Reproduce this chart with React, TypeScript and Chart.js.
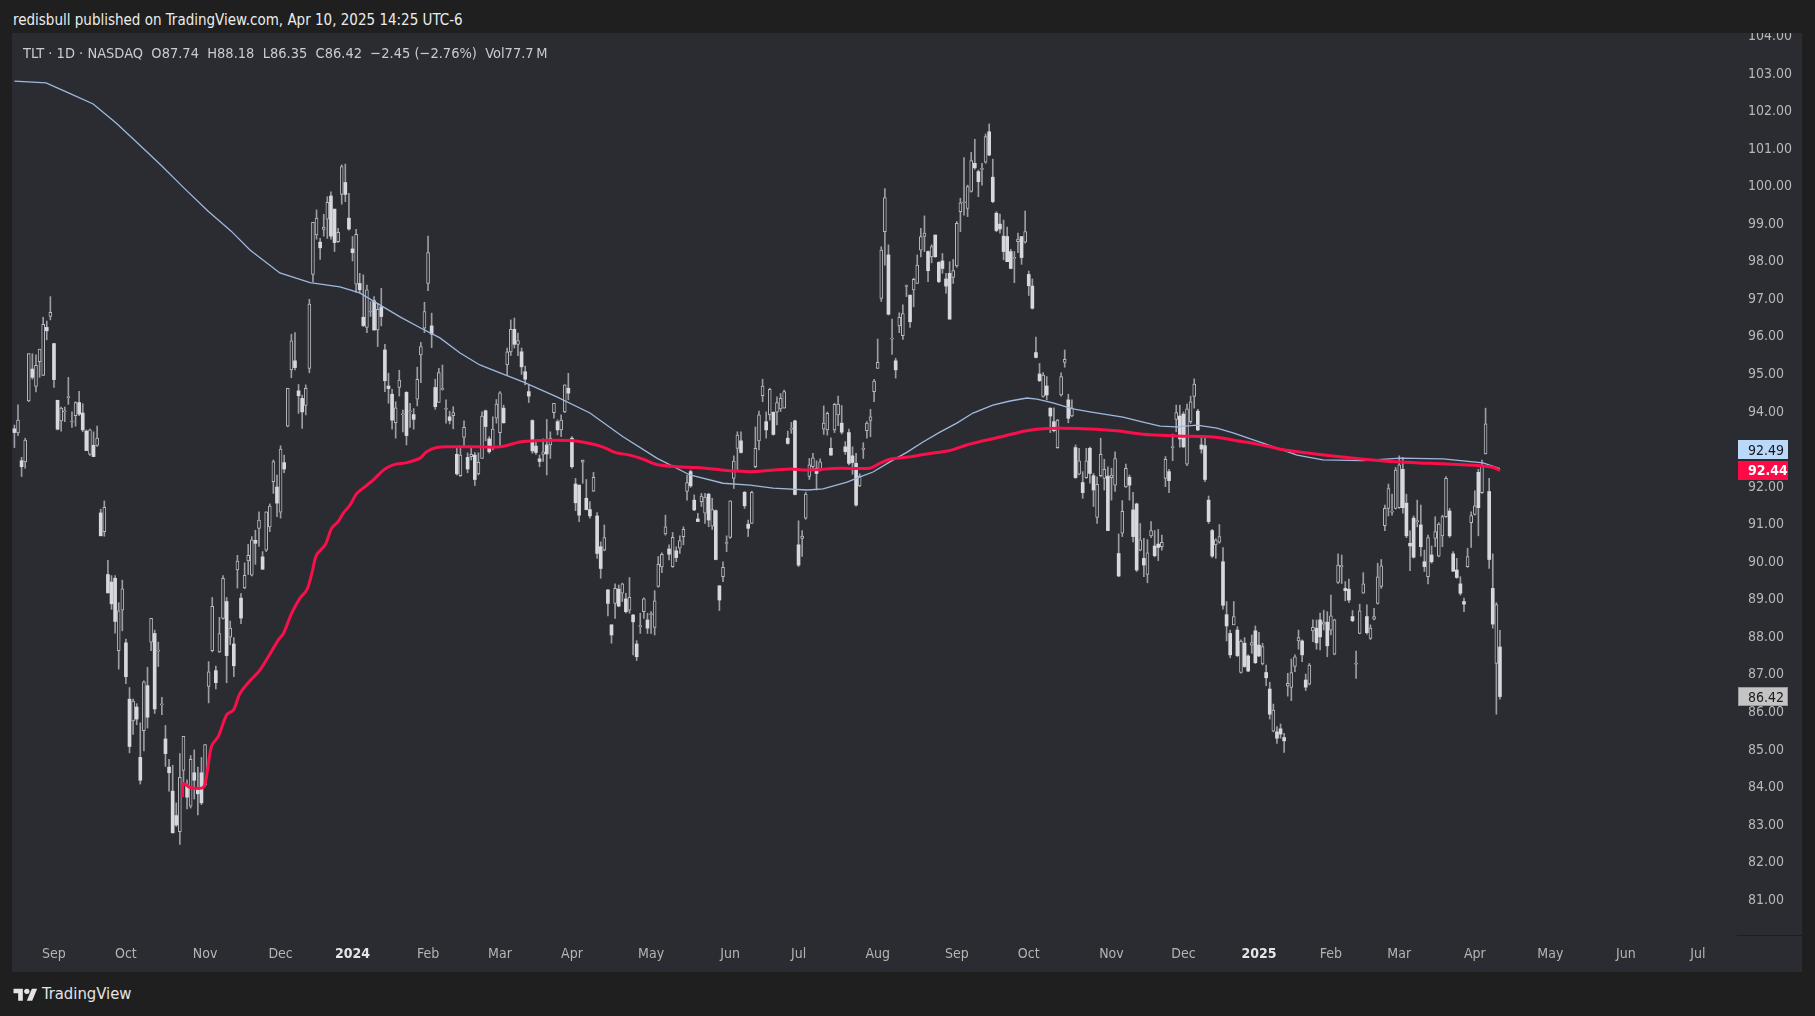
import React, { useEffect, useRef } from "react";
import { Chart, registerables } from "chart.js";

Chart.register(...registerables);

// Daily candles [open, high, low, close]; index 0 = 17 Aug 2023, last = 10 Apr 2025
const candlesAugOct2023: number[][] = [
  [93.55, 93.65, 93.05, 93.45], [93.44, 94.19, 93.37, 93.78], [92.7, 92.79, 92.28, 92.54], [92.67, 93.3, 92.5, 93.25],
  [94.29, 95.55, 94.27, 95.55], [95.14, 95.55, 94.87, 94.92], [94.68, 95.52, 94.53, 95.24], [95.34, 95.67, 94.92, 95.67],
  [94.97, 96.52, 94.97, 96.33], [96.25, 96.42, 95.92, 96.16], [96.54, 97.07, 96.45, 96.65], [95.82, 95.82, 94.65, 94.86],
  [94.31, 94.31, 93.52, 93.54], [93.76, 94.13, 93.49, 94.1], [94.0, 94.13, 93.74, 94.02], [94.38, 94.92, 94.2, 94.39],
  [93.73, 94.0, 93.59, 93.73], [93.9, 94.27, 93.62, 94.25], [94.25, 94.55, 93.9, 93.94], [93.97, 94.22, 93.47, 93.52],
  [93.49, 93.52, 92.97, 92.97], [92.87, 93.54, 92.84, 93.52], [93.11, 93.47, 92.81, 92.81], [93.11, 93.62, 93.08, 93.3],
  [91.31, 91.41, 90.7, 90.7], [90.81, 91.63, 90.69, 91.46], [89.67, 90.05, 89.18, 89.18], [89.47, 89.64, 88.74, 88.89],
  [89.57, 89.64, 88.11, 88.42], [87.64, 88.92, 87.15, 88.7], [88.72, 89.52, 88.17, 89.29], [87.85, 87.95, 86.76, 86.95],
  [86.35, 86.66, 84.92, 85.09], [85.77, 86.35, 85.41, 86.3], [86.14, 86.23, 85.67, 85.82], [84.8, 85.72, 84.09, 84.19],
  [85.51, 86.84, 84.97, 86.81], [86.71, 87.2, 85.58, 85.87], [87.87, 88.5, 87.64, 88.5], [88.1, 88.19, 85.97, 86.09],
  [87.63, 87.87, 87.22, 87.63], [86.2, 86.4, 85.94, 86.2], [85.29, 85.65, 84.56, 84.9], [84.54, 84.75, 83.9, 84.39],
  [83.9, 84.59, 82.79, 82.79], [83.25, 83.59, 82.96, 83.0], [82.82, 84.9, 82.48, 84.27], [84.45, 85.36, 84.1, 85.36],
  [84.06, 84.2, 83.43, 83.74], [83.5, 84.85, 83.45, 84.75], [84.39, 85.0, 83.69, 84.19], [83.99, 84.54, 83.27, 83.83],
  [84.39, 84.8, 83.54, 83.59],
];
const candlesNovDec2023: number[][] = [
  [84.06, 85.14, 84.03, 85.14], [86.69, 87.35, 86.25, 87.08], [87.64, 89.06, 87.61, 88.82], [87.11, 87.23, 86.62, 86.79],
  [87.61, 88.53, 87.59, 88.1], [88.5, 89.64, 88.48, 89.57], [88.95, 89.06, 86.79, 87.51], [88.0, 88.43, 87.8, 88.24],
  [87.82, 87.99, 86.95, 87.24], [89.79, 90.18, 89.31, 90.03], [89.04, 89.16, 88.36, 88.51], [89.31, 89.98, 89.29, 89.65],
  [90.03, 90.47, 89.67, 90.18], [89.65, 90.68, 89.63, 90.59], [90.58, 90.85, 89.94, 90.5], [90.9, 91.34, 90.42, 91.12],
  [90.14, 90.28, 89.81, 89.81], [90.32, 91.34, 90.28, 91.34], [90.94, 91.55, 90.81, 91.49], [92.14, 92.72, 91.83, 92.68],
  [92.0, 92.32, 91.21, 91.57], [91.33, 93.1, 91.17, 93.01], [92.65, 92.85, 92.38, 92.48], [93.62, 94.63, 93.6, 94.63],
  [95.12, 96.07, 94.91, 95.89], [95.36, 96.11, 95.12, 95.18], [94.56, 94.73, 93.96, 94.43], [94.36, 94.45, 93.56, 94.0],
  [94.17, 94.72, 93.92, 94.63], [95.16, 97.0, 95.04, 96.87], [97.66, 99.05, 97.47, 99.05], [98.71, 99.38, 98.6, 99.16],
  [98.52, 98.62, 98.06, 98.37], [98.86, 99.26, 98.68, 98.92], [99.13, 99.73, 98.62, 99.58], [99.75, 99.86, 98.6, 98.68],
  [99.4, 99.4, 98.27, 98.51], [98.53, 98.89, 98.51, 98.78], [99.79, 100.58, 99.53, 100.53], [100.11, 100.6, 99.6, 99.79],
  [99.16, 99.82, 98.84, 98.87],
];
const candlesJanMar2024: number[][] = [
  [98.34, 98.67, 98.02, 98.24], [97.4, 98.86, 97.18, 98.73], [97.42, 97.69, 97.16, 97.25], [96.52, 97.65, 96.27, 96.3],
  [96.25, 97.38, 96.11, 97.25], [96.66, 96.94, 96.54, 96.66], [96.96, 97.07, 96.18, 96.18], [96.18, 96.89, 95.74, 96.73],
  [96.8, 97.29, 96.29, 96.54], [95.65, 95.8, 94.54, 94.83], [94.69, 95.03, 94.23, 94.62], [94.47, 94.6, 93.54, 93.78],
  [93.71, 94.27, 93.3, 94.11], [94.65, 95.11, 94.42, 94.85], [93.92, 94.05, 93.47, 93.92], [94.52, 94.54, 93.12, 93.37],
  [94.0, 94.23, 93.59, 94.0], [93.93, 94.09, 93.54, 93.8], [94.34, 95.19, 94.16, 94.87], [95.52, 95.85, 94.78, 95.74],
  [96.23, 96.92, 96.11, 96.67], [97.42, 98.68, 97.23, 98.24], [96.29, 96.63, 95.71, 96.07], [94.65, 94.87, 94.07, 94.14],
  [94.25, 95.16, 94.25, 95.05], [94.6, 95.25, 94.58, 94.6], [94.07, 94.32, 93.7, 94.07], [93.87, 94.02, 93.68, 93.77],
  [93.9, 94.14, 93.55, 93.98], [92.87, 93.07, 92.32, 92.35], [92.3, 93.07, 92.28, 92.85], [93.32, 93.76, 93.07, 93.59],
  [92.79, 92.91, 92.38, 92.48], [92.81, 93.03, 92.72, 92.87], [92.85, 92.92, 92.04, 92.2], [92.35, 92.91, 92.32, 92.66],
  [92.76, 94.0, 92.76, 93.89], [94.03, 94.05, 93.23, 93.61], [93.28, 93.34, 92.9, 92.94], [93.07, 93.87, 92.99, 93.54],
  [93.83, 94.33, 93.7, 94.21], [93.45, 94.54, 93.05, 94.51], [94.1, 94.18, 93.7, 93.71], [95.25, 95.7, 94.98, 95.6],
  [95.6, 96.45, 95.5, 96.2], [96.2, 96.5, 95.7, 95.8], [95.8, 96.1, 95.5, 95.9], [95.6, 95.7, 95.0, 95.2],
  [95.07, 95.22, 94.72, 94.87], [94.54, 94.72, 94.25, 94.42], [93.77, 93.79, 92.9, 92.96], [93.09, 93.23, 92.87, 92.92],
  [92.75, 92.85, 92.54, 92.68], [92.87, 93.28, 92.68, 92.94], [93.12, 93.8, 92.32, 92.88], [93.12, 93.47, 92.76, 93.3],
  [93.98, 94.23, 93.83, 94.23], [93.74, 93.79, 93.39, 93.52], [93.52, 93.92, 93.34, 93.78], [94.0, 94.72, 93.98, 94.72],
  [94.63, 95.03, 94.32, 94.5],
];
const candlesAprJun2024: number[][] = [
  [93.3, 93.34, 92.5, 92.54], [92.08, 92.23, 91.37, 91.58], [92.05, 92.05, 91.08, 91.25], [92.66, 92.72, 92.1, 92.72],
  [91.7, 92.2, 91.39, 91.4], [91.4, 91.61, 91.17, 91.23], [91.89, 92.39, 91.88, 92.26], [91.23, 91.32, 90.1, 90.23],
  [90.41, 90.54, 89.57, 89.83], [90.32, 90.99, 90.3, 90.65], [89.26, 89.27, 88.57, 88.9], [88.33, 88.33, 87.84, 88.06],
  [88.9, 89.42, 88.5, 89.3], [89.28, 89.39, 88.81, 88.83], [89.17, 89.44, 88.95, 89.42], [89.02, 89.17, 88.65, 88.68],
  [88.72, 89.59, 88.64, 89.06], [88.59, 88.61, 87.53, 88.41], [87.82, 87.91, 87.38, 87.48], [88.28, 88.64, 88.1, 88.28],
  [88.68, 89.05, 88.5, 89.02], [88.46, 88.64, 88.1, 88.24], [88.6, 88.68, 88.1, 88.6], [88.26, 89.24, 88.06, 88.97],
  [89.35, 90.15, 89.33, 89.94], [89.87, 90.25, 89.72, 90.21], [90.75, 91.25, 90.72, 90.94], [90.35, 90.46, 90.06, 90.21],
  [89.88, 90.79, 89.86, 90.66], [90.3, 90.41, 90.01, 90.12], [90.37, 90.7, 90.23, 90.57], [90.68, 90.94, 90.46, 90.87],
  [91.88, 92.32, 91.65, 92.12], [92.41, 92.45, 91.99, 92.03], [91.65, 91.79, 91.37, 91.39], [91.15, 91.3, 91.08, 91.08],
  [91.61, 91.83, 91.48, 91.76], [91.3, 91.83, 91.03, 91.73], [91.81, 91.83, 90.94, 91.12], [90.96, 91.7, 90.87, 91.4],
  [91.37, 91.39, 90.06, 90.07], [89.37, 89.37, 88.71, 88.99], [89.61, 90.01, 89.48, 89.86], [90.5, 90.7, 90.28, 90.5],
  [90.66, 91.63, 90.63, 91.63], [92.23, 92.83, 91.96, 92.69], [93.03, 93.47, 92.45, 93.38], [93.23, 93.47, 92.9, 92.92],
  [91.86, 91.88, 91.43, 91.5], [91.01, 91.12, 90.68, 90.9], [91.03, 91.89, 91.03, 91.86], [92.54, 93.6, 92.51, 93.03],
  [93.23, 94.02, 92.99, 93.92], [94.43, 94.87, 94.27, 94.69], [93.74, 94.0, 93.3, 93.52], [93.92, 94.63, 93.78, 94.6],
  [93.99, 94.0, 93.38, 93.4], [93.99, 94.4, 93.65, 94.25], [94.08, 94.49, 94.01, 94.36], [94.1, 94.58, 94.1, 94.54],
  [93.3, 93.49, 93.14, 93.16], [93.54, 93.72, 93.43, 93.54], [93.76, 93.78, 91.79, 91.8],
];
const candlesJulSep2024: number[][] = [
  [90.46, 91.1, 89.88, 89.92], [90.63, 90.84, 90.15, 90.69], [91.17, 91.86, 91.14, 91.81], [92.28, 92.76, 92.2, 92.59],
  [92.54, 92.9, 92.45, 92.78], [92.5, 92.7, 91.92, 92.36], [92.45, 92.75, 92.43, 92.67], [93.54, 94.16, 93.4, 93.7],
  [93.52, 94.0, 93.38, 93.96], [93.03, 93.31, 92.84, 92.85], [93.52, 94.23, 93.45, 94.2], [93.92, 94.42, 93.63, 94.21],
  [93.7, 94.17, 93.41, 93.46], [93.07, 93.21, 92.87, 92.94], [93.45, 93.54, 92.59, 92.63], [92.83, 93.07, 92.34, 92.65],
  [92.63, 92.9, 91.49, 91.52], [92.03, 92.35, 92.01, 92.29], [93.0, 93.18, 92.76, 93.0], [93.5, 93.74, 93.3, 93.7],
  [93.77, 94.07, 93.34, 93.87], [94.54, 94.87, 94.27, 94.82], [95.16, 95.94, 95.16, 95.32], [97.02, 98.4, 96.94, 98.31],
  [98.8, 99.95, 97.91, 99.71], [98.18, 98.45, 96.58, 96.6], [95.94, 96.47, 95.53, 95.94], [95.36, 95.43, 94.9, 95.12],
  [96.29, 96.64, 96.11, 96.52], [96.03, 96.85, 95.93, 96.62], [97.34, 97.38, 97.07, 97.34], [97.11, 97.11, 96.25, 96.4],
  [97.25, 97.56, 96.8, 97.53], [97.42, 98.18, 97.42, 97.91], [98.31, 98.89, 98.13, 98.67], [98.67, 99.22, 98.27, 98.76],
  [98.27, 98.29, 97.47, 97.76], [98.13, 98.45, 97.97, 98.4], [98.71, 98.71, 98.12, 98.13], [97.98, 98.0, 97.44, 97.47],
  [98.02, 98.22, 97.69, 97.82], [97.54, 97.69, 97.16, 97.35], [97.69, 98.0, 96.47, 96.47], [97.58, 98.06, 97.42, 97.76],
  [97.89, 99.07, 97.85, 99.02], [99.33, 99.69, 98.8, 99.57], [99.57, 100.77, 99.24, 99.57], [99.42, 100.04, 99.2, 100.0],
  [99.87, 100.91, 99.85, 100.69], [100.62, 101.26, 100.46, 100.5], [100.4, 100.44, 99.73, 100.13], [100.46, 100.62, 100.04, 100.46],
  [100.65, 101.4, 100.62, 101.33], [101.46, 101.67, 100.82, 100.84], [100.25, 100.73, 99.57, 99.6], [99.29, 99.33, 98.8, 98.83],
  [99.0, 99.27, 98.76, 98.87], [98.68, 99.11, 98.05, 98.27], [98.67, 98.92, 98.0, 98.0], [98.27, 98.33, 97.81, 97.82],
  [98.09, 98.27, 97.44, 98.09], [98.53, 98.76, 98.24, 98.6], [98.67, 98.67, 97.93, 98.11], [98.52, 99.35, 98.49, 98.8],
];
const candlesOctDec2024: number[][] = [
  [97.66, 97.75, 97.1, 97.36], [97.35, 97.54, 96.74, 96.76], [95.58, 95.99, 95.44, 95.45], [95.01, 95.29, 94.81, 94.83],
  [94.41, 95.05, 94.39, 94.98], [94.69, 94.94, 94.32, 94.45], [94.1, 94.11, 93.45, 93.89], [93.74, 94.11, 93.47, 93.5],
  [93.05, 93.8, 93.03, 93.78], [94.45, 95.04, 94.42, 94.94], [95.32, 95.65, 95.19, 95.4], [94.32, 94.47, 93.71, 93.83],
  [93.89, 94.32, 93.87, 94.11], [93.05, 93.12, 92.23, 92.25], [92.34, 93.03, 92.32, 92.7], [92.12, 92.41, 91.7, 91.85],
  [92.25, 93.03, 92.23, 92.7], [93.03, 93.06, 92.1, 92.36], [92.3, 92.36, 91.48, 91.92], [91.19, 92.27, 91.03, 92.07],
  [92.3, 93.3, 92.27, 92.87], [92.23, 92.74, 91.92, 92.47], [92.29, 92.54, 90.84, 90.84], [92.25, 92.5, 91.65, 92.32],
  [92.05, 92.94, 91.88, 92.76], [90.23, 90.75, 89.61, 89.63], [90.77, 91.64, 90.68, 91.35], [92.0, 92.61, 91.99, 92.5],
  [92.26, 92.32, 91.65, 92.05], [91.39, 91.86, 90.54, 90.68], [91.55, 91.57, 89.75, 89.79], [90.32, 91.03, 90.3, 90.59],
  [90.1, 90.63, 89.61, 89.92], [89.67, 90.6, 89.45, 90.25], [90.7, 91.08, 90.65, 90.84], [90.43, 90.84, 90.14, 90.17],
  [90.48, 90.87, 90.04, 90.39], [90.41, 90.72, 90.32, 90.53], [92.23, 92.81, 92.01, 92.74], [92.41, 92.47, 91.85, 92.17],
  [93.05, 93.41, 92.7, 93.05], [93.8, 94.18, 93.47, 93.98], [93.89, 94.18, 93.06, 93.28], [93.94, 94.0, 93.05, 93.07],
  [92.61, 94.21, 92.57, 94.08], [93.74, 94.42, 93.69, 94.27], [94.41, 94.88, 94.1, 94.74], [94.02, 94.07, 93.5, 93.52],
  [93.12, 93.32, 92.9, 93.01], [93.1, 93.3, 92.14, 92.2], [91.65, 91.76, 91.03, 91.08], [90.84, 90.87, 90.12, 90.16],
  [90.46, 90.62, 90.1, 90.59], [90.53, 91.0, 90.5, 90.68], [90.01, 90.39, 88.75, 88.85], [88.6, 88.95, 87.9, 88.3],
  [88.1, 88.19, 87.45, 87.53], [88.33, 88.95, 88.33, 88.55], [88.19, 88.28, 87.48, 87.51], [87.06, 87.93, 87.04, 87.9],
  [87.84, 87.99, 87.2, 87.22], [87.5, 87.53, 87.08, 87.1], [87.79, 88.06, 87.57, 87.86], [88.17, 88.3, 87.3, 87.32],
];
const candlesJanApr2025: number[][] = [
  [87.79, 88.13, 87.48, 87.5], [87.29, 87.84, 87.26, 87.75], [87.06, 87.26, 86.71, 86.92], [86.62, 86.8, 85.82, 85.95],
  [85.5, 86.22, 85.48, 86.06], [85.48, 85.62, 85.17, 85.31], [85.56, 85.69, 85.31, 85.42], [85.33, 85.44, 84.93, 85.24],
  [86.7, 87.04, 86.43, 86.77], [86.66, 87.42, 86.31, 87.06], [87.22, 87.53, 87.08, 87.48], [87.9, 88.19, 87.68, 87.99],
  [87.9, 87.93, 87.35, 87.53], [86.86, 87.02, 86.58, 86.67], [86.75, 87.3, 86.73, 87.26], [88.17, 88.46, 87.88, 88.26],
  [88.24, 88.46, 87.68, 87.85], [88.46, 88.64, 87.66, 88.01], [88.35, 88.72, 88.19, 88.41], [88.4, 88.68, 87.48, 87.77],
  [88.19, 89.12, 88.06, 88.57], [87.55, 88.48, 87.53, 88.46], [89.46, 90.22, 89.43, 89.92], [89.88, 90.19, 89.43, 89.88],
  [89.3, 89.48, 88.97, 89.24], [89.28, 89.55, 88.92, 88.99], [88.55, 88.71, 88.41, 88.44], [87.28, 87.63, 86.9, 87.28],
  [88.1, 88.88, 88.09, 88.7], [89.17, 89.72, 89.17, 89.42], [88.55, 88.86, 88.08, 88.12], [87.97, 88.33, 87.94, 88.24],
  [88.48, 88.77, 88.46, 88.55], [88.9, 89.97, 88.88, 89.61], [89.35, 90.07, 89.3, 89.9], [90.97, 91.52, 90.84, 91.43],
  [91.43, 92.08, 91.23, 91.96], [91.33, 91.81, 91.25, 91.33], [91.43, 92.52, 91.41, 92.45], [91.45, 92.83, 91.43, 92.59],
  [92.47, 92.79, 91.3, 91.45], [91.57, 91.81, 90.65, 90.7], [90.5, 90.83, 89.77, 90.43], [91.17, 91.23, 90.11, 90.13],
  [91.08, 91.65, 90.94, 91.08], [90.99, 91.52, 90.16, 90.41], [90.01, 90.32, 89.75, 89.88], [89.61, 90.72, 89.42, 90.65],
  [90.19, 90.43, 89.97, 90.01], [90.63, 91.21, 90.41, 90.81], [90.16, 91.05, 90.14, 91.01], [90.7, 91.25, 90.41, 91.21],
  [91.21, 92.28, 91.19, 92.23], [91.36, 91.43, 90.66, 90.7], [90.22, 90.28, 89.75, 89.76], [89.79, 90.1, 89.57, 89.59],
  [89.42, 89.61, 89.12, 89.17], [88.95, 89.04, 88.68, 88.88], [89.88, 90.37, 89.86, 90.15], [91.05, 91.34, 90.39, 91.24],
  [91.27, 91.9, 91.25, 91.5], [92.39, 92.47, 90.7, 91.45], [91.85, 92.72, 91.83, 92.56], [92.88, 94.1, 92.88, 93.68],
  [91.88, 92.23, 89.83, 90.07], [89.3, 90.22, 88.24, 88.35], [87.3, 88.92, 85.95, 88.87], [87.74, 88.18, 86.35, 86.42],
];

// 200-day moving average (light blue), read at [bar index, price]
const sma200Line: number[][] = [
  [0, 102.81], [8.8, 102.76], [15.2, 102.49], [21.9, 102.2], [28.2, 101.7], [34.6, 101.13], [41, 100.55],
  [47.4, 99.94], [53.8, 99.35], [60.2, 98.82], [65.5, 98.31], [73.8, 97.7], [82.2, 97.44], [90.5, 97.33],
  [96, 97.17], [101.6, 96.85], [107.2, 96.53], [112.8, 96.24], [118.3, 95.97], [123.9, 95.57], [129.4, 95.25],
  [135, 95.04], [141.4, 94.8], [150.8, 94.4], [160, 93.97], [169.2, 93.34], [178.6, 92.77], [187.8, 92.32],
  [197, 92.1], [204.5, 92.05], [210.9, 91.97], [220.4, 91.92], [224.8, 91.95], [231.5, 92.13], [235.1, 92.27],
  [238.7, 92.4], [243.4, 92.67], [248.2, 92.93], [252.6, 93.2], [257.3, 93.46], [262, 93.7], [266.5, 93.97],
  [272, 94.18], [276.8, 94.29], [281.5, 94.37], [284.3, 94.34], [288.7, 94.24], [294.3, 94.08], [299, 94.0],
  [308.2, 93.86], [313.8, 93.73], [318.5, 93.62], [323.2, 93.6], [328.8, 93.65], [334.3, 93.57], [338.8, 93.44],
  [347.1, 93.17], [356.6, 92.85], [363.8, 92.72], [374.9, 92.7], [385.2, 92.77], [397.2, 92.75], [408.3, 92.64],
  [413, 92.49],
];

// red average line, read at [bar index, price]
const redAverageLine: number[][] = [
  [46.7, 83.74], [47, 84.1], [48.8, 84.0], [52.5, 84.0], [53.5, 84.35], [54.8, 85.1], [56.7, 85.36], [59, 85.93],
  [60.9, 86.06], [62.7, 86.5], [65.5, 86.84], [68.3, 87.13], [73.4, 87.93], [74.8, 88.1], [77.1, 88.64],
  [79.4, 89.04], [81.3, 89.26], [82.7, 89.7], [84, 90.19], [86.4, 90.46], [88.2, 90.9], [90, 91.08], [91.4, 91.3],
  [93.3, 91.52], [95.2, 91.83], [97.5, 92.01], [99.8, 92.19], [102.6, 92.45], [105.3, 92.59], [109.1, 92.65],
  [112.8, 92.77], [114.6, 92.94], [117.4, 93.05], [121.1, 93.07], [128.5, 93.07], [135, 93.07], [141.5, 93.21],
  [154.4, 93.24], [160, 93.16], [163.7, 93.06], [167.4, 92.91], [171.1, 92.85], [174.8, 92.74], [178.5, 92.6],
  [184.1, 92.54], [189.7, 92.52], [195.2, 92.47], [198.9, 92.43], [205.4, 92.41], [215.6, 92.48], [220.2, 92.45],
  [229.5, 92.5], [237.8, 92.5], [240.6, 92.63], [243.4, 92.74], [248, 92.79], [253.6, 92.88], [260.1, 92.97],
  [264.7, 93.12], [269.4, 93.23], [274, 93.33], [281.4, 93.5], [287, 93.56], [295.3, 93.56], [306.4, 93.5],
  [310.1, 93.45], [315.7, 93.39], [323.1, 93.36], [332.4, 93.34], [336.1, 93.3], [339.8, 93.23], [343.5, 93.18],
  [349.1, 93.07], [352.8, 92.99], [358.3, 92.92], [365.8, 92.83], [375, 92.74], [384.3, 92.67], [393.6, 92.63],
  [402.8, 92.59], [408.4, 92.56], [411.2, 92.52], [413, 92.44],
];

const monthLabels = ["Sep", "Oct", "Nov", "Dec", "2024", "Feb", "Mar", "Apr", "May", "Jun", "Jul", "Aug",
  "Sep", "Oct", "Nov", "Dec", "2025", "Feb", "Mar", "Apr", "May", "Jun", "Jul"];
const monthStartIndex = [11, 31, 53, 74, 94, 115, 135, 155, 177, 199, 218, 240, 262, 282, 305, 325, 346, 366, 385, 406, 427, 448, 468];
const priceTicks = [81, 82, 83, 84, 85, 86, 87, 88, 89, 90, 91, 92, 93, 94, 95, 96, 97, 98, 99, 100, 101, 102, 103, 104];

const allCandles = [
  ...candlesAugOct2023, ...candlesNovDec2023, ...candlesJanMar2024, ...candlesAprJun2024,
  ...candlesJulSep2024, ...candlesOctDec2024, ...candlesJanApr2025,
];

const FONT = "'DejaVu Sans Condensed', 'Liberation Sans Narrow', 'Roboto', sans-serif";
const PANEL = "#2b2c32";
const OUTER = "#1f1f1f";
const UP_BORDER = "#b6b9c1";
const DOWN_FILL = "#d6d8de";
const WICK = "#9a9da5";
const BLUE = "#9fb8dc";
const RED = "#fa0f4b";

const lastCandle = allCandles[allCandles.length - 1];
const prevClose = allCandles[allCandles.length - 2][3];
const change = lastCandle[3] - prevClose;
const changePct = (change / prevClose) * 100;
const fmtSigned = (v: number) => (v < 0 ? "\u2212" : "+") + Math.abs(v).toFixed(2);

const lastValuePlugin = {
  id: "lastValueLabels",
  afterDraw(chart: any) {
    const { ctx, chartArea } = chart;
    const y = chart.scales.y;
    const w = 50;
    const h = 19;
    const left = chartArea.right + 1;
    const redVal = redAverageLine[redAverageLine.length - 1][1];
    const blueVal = sma200Line[sma200Line.length - 1][1];
    const closeVal = lastCandle[3];
    const redY = y.getPixelForValue(redVal);
    const blueY = Math.min(y.getPixelForValue(blueVal), redY - h - 1.5);
    const closeY = y.getPixelForValue(closeVal);
    const box = (cy: number, bg: string, fg: string, text: string, bold: boolean, border?: string) => {
      ctx.save();
      ctx.fillStyle = bg;
      ctx.fillRect(left, Math.round(cy - h / 2), w, h);
      if (border) {
        ctx.strokeStyle = border;
        ctx.lineWidth = 1;
        ctx.strokeRect(left + 0.5, Math.round(cy - h / 2) + 0.5, w - 1, h - 1);
      }
      ctx.fillStyle = fg;
      ctx.font = `${bold ? "bold " : ""}14px ${FONT}`;
      ctx.textBaseline = "middle";
      ctx.textAlign = "left";
      ctx.fillText(text, left + 10, Math.round(cy) + 1);
      ctx.restore();
    };
    box(blueY, "#bbd8f8", "#131722", blueVal.toFixed(2), false);
    box(redY, "#ff0a47", "#ffffff", redVal.toFixed(2), true);
    box(closeY, "#c4c4c4", "#1c1c1c", closeVal.toFixed(2), false, "#9a9a9a");
    ctx.save();
    ctx.strokeStyle = "#1d1e21";
    ctx.lineWidth = 1;
    ctx.beginPath();
    ctx.moveTo(chartArea.right, chartArea.bottom + 0.5);
    ctx.lineTo(chart.width, chartArea.bottom + 0.5);
    ctx.stroke();
    ctx.restore();
  },
};

function CandleChart() {
  const ref = useRef<HTMLCanvasElement | null>(null);
  useEffect(() => {
    if (!ref.current) return;
    const isUp = (c: number[]) => c[3] >= c[0];
    const chart = new Chart(ref.current, {
      type: "bar",
      data: {
        datasets: [
          {
            type: "line",
            data: redAverageLine.map(([x, y]) => ({ x, y })),
            borderColor: RED,
            borderWidth: 3,
            pointRadius: 0,
            tension: 0.3,
            order: 0,
          } as any,
          {
            type: "line",
            data: sma200Line.map(([x, y]) => ({ x, y })),
            borderColor: BLUE,
            borderWidth: 1.3,
            pointRadius: 0,
            tension: 0,
            order: 1,
          } as any,
          {
            type: "bar",
            data: allCandles.map((c, i) => ({ x: i, y: [Math.min(c[0], c[3]), Math.max(c[0], c[3])] })),
            backgroundColor: allCandles.map((c) => (isUp(c) ? PANEL : DOWN_FILL)),
            borderColor: allCandles.map((c) => (isUp(c) ? UP_BORDER : DOWN_FILL)),
            borderWidth: allCandles.map((c) => (isUp(c) ? 1 : 0)),
            borderSkipped: false,
            barThickness: 3,
            minBarLength: 1,
            grouped: false,
            order: 2,
          } as any,
          {
            type: "bar",
            data: allCandles.map((c, i) => ({ x: i, y: [c[2], c[1]] })),
            backgroundColor: WICK,
            borderWidth: 0,
            barThickness: 1,
            grouped: false,
            order: 3,
          } as any,
        ],
      },
      options: {
        animation: false,
        responsive: false,
        maintainAspectRatio: false,
        events: [],
        layout: { padding: 0 },
        plugins: { legend: { display: false }, tooltip: { enabled: false } },
        scales: {
          x: {
            type: "linear",
            min: -0.667,
            max: 478.9,
            offset: false,
            position: "bottom",
            grid: { display: false, drawTicks: false },
            border: { display: false },
            afterBuildTicks: (s: any) => {
              s.ticks = monthStartIndex.map((v) => ({ value: v }));
            },
            afterFit: (s: any) => {
              s.height = 37;
              s.paddingLeft = 0;
              s.paddingRight = 0;
            },
            ticks: {
              autoSkip: false,
              maxRotation: 0,
              minRotation: 0,
              padding: 11,
              color: (c: any) => (/^\d{4}$/.test(monthLabels[c.index] || "") ? "#e6e6e6" : "#b4b4b4"),
              font: (c: any) => ({
                family: FONT,
                size: 14,
                weight: /^\d{4}$/.test(monthLabels[c.index] || "") ? "bold" : "normal",
              }),
              callback: (_v: any, i: number) => monthLabels[i],
            },
          },
          y: {
            type: "linear",
            position: "right",
            min: 80.07,
            max: 104.09,
            grid: { display: false, drawTicks: false },
            border: { display: false },
            afterBuildTicks: (s: any) => {
              s.ticks = priceTicks.map((v) => ({ value: v }));
            },
            afterFit: (s: any) => {
              s.width = 65;
              s.paddingTop = 0;
              s.paddingBottom = 0;
            },
            ticks: {
              padding: 11,
              color: "#b8b8b8",
              font: { family: FONT, size: 14 },
              callback: (v: any) => Number(v).toFixed(2),
            },
          },
        },
      } as any,
      plugins: [lastValuePlugin as any],
    });
    return () => chart.destroy();
  }, []);
  return <canvas ref={ref} width={1790} height={939} style={{ display: "block", width: 1790, height: 939 }} />;
}

export default function App() {
  const infoLine =
    `TLT \u00b7 1D \u00b7 NASDAQ  O${lastCandle[0].toFixed(2)}  H${lastCandle[1].toFixed(2)}  L${lastCandle[2].toFixed(2)}  C${lastCandle[3].toFixed(2)}  ` +
    `${fmtSigned(change)} (${fmtSigned(changePct)}%)  Vol77.7\u2009M`;
  return (
    <div
      style={{
        position: "fixed",
        left: 0,
        top: 0,
        width: 1815,
        height: 1016,
        background: OUTER,
        overflow: "hidden",
        fontFamily: FONT,
      }}
    >
      <div style={{ position: "absolute", left: 13, top: 11, fontSize: 15, color: "#ececec", whiteSpace: "pre", lineHeight: "18px" }}>
        redisbull published on TradingView.com, Apr 10, 2025 14:25 UTC-6
      </div>
      <div style={{ position: "absolute", left: 12, top: 33, width: 1790, height: 939, background: PANEL }}>
        <CandleChart />
        <div
          style={{
            position: "absolute",
            left: 11,
            top: 12,
            fontSize: 14.5,
            color: "#c9cbd0",
            whiteSpace: "pre",
            lineHeight: "17px",
          }}
        >
          {infoLine}
        </div>
      </div>
      <div style={{ position: "absolute", left: 13, top: 985, display: "flex", alignItems: "center", gap: 4 }}>
        <svg width="25" height="16" viewBox="0 0 36 24">
          <path d="M14 22H7V11H0V4h14v18z" fill="#e4e4e4" />
          <circle cx="20" cy="8" r="4" fill="#e4e4e4" />
          <path d="M28 22h-8l7.5-18h8L28 22z" fill="#e4e4e4" />
        </svg>
        <span style={{ fontSize: 16.5, color: "#e4e4e4", lineHeight: "18px" }}>TradingView</span>
      </div>
    </div>
  );
}
